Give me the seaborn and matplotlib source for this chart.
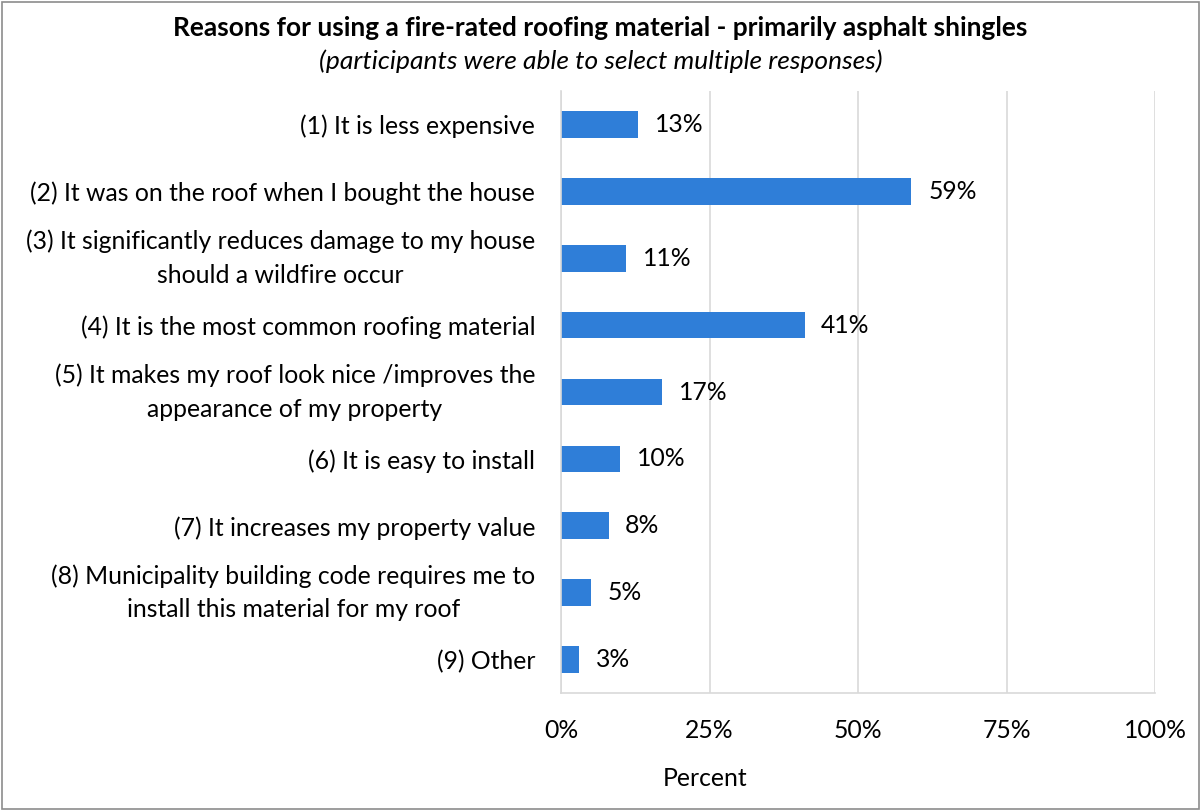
import matplotlib
matplotlib.use("Agg")
import matplotlib.pyplot as plt
import seaborn as sns
import pandas as pd
import numpy as np
from matplotlib.ticker import FixedLocator, PercentFormatter

categories = [
    "(1) It is less expensive",
    "(2) It was on the roof when I bought the house",
    "(3) It significantly reduces damage to my house\nshould a wildfire occur",
    "(4) It is the most common roofing material",
    "(5) It makes my roof look nice /improves the\nappearance of my property",
    "(6) It is easy to install",
    "(7) It increases my property value",
    "(8) Municipality building code requires me to\ninstall this material for my roof",
    "(9) Other",
]
percents = [13, 59, 11, 41, 17, 10, 8, 5, 3]
x_ticks = [0, 25, 50, 75, 100]

sns.set_theme(style="white")
plt.rcParams["font.family"] = ["Lato", "DejaVu Sans"]

df = pd.DataFrame({"reason": categories, "percent": percents})

fig = plt.figure(figsize=(12.01, 8.11), dpi=100)
ax = fig.add_axes([561 / 1201, 1 - 693 / 811, 594 / 1201, 602 / 811])

bar_color = "#2F7ED8"
sns.barplot(data=df, x="percent", y="reason", color=bar_color, width=0.40,
            saturation=1, ax=ax, edgecolor="none")

ax.set_xlim(0, 100)
ax.set_ylim(len(categories) - 0.5, -0.5)
ax.xaxis.set_major_locator(FixedLocator(x_ticks))
ax.xaxis.set_major_formatter(PercentFormatter(100, decimals=0))
ax.grid(axis="x", color="#D9D9D9", linewidth=1.2)
ax.set_axisbelow(True)

for s in ["top", "right"]:
    ax.spines[s].set_visible(False)
for s in ["left", "bottom"]:
    ax.spines[s].set_color("#D9D9D9")
    ax.spines[s].set_linewidth(1.2)

label_size = 17.8

# category labels without tick marks; boundary ticks drawn as minor ticks
ax.tick_params(axis="y", which="major", length=0, pad=18.5, labelsize=label_size,
               labelcolor="black")
ax.set_yticks(np.arange(-0.5, len(categories), 1.0), minor=True)
ax.tick_params(axis="y", which="minor", length=8, color="#D9D9D9", width=1.2)
ax.tick_params(axis="x", which="major", length=9, color="#D9D9D9", width=1.2,
               pad=10, labelsize=label_size, labelcolor="black")
for lbl in ax.get_yticklabels():
    lbl.set_horizontalalignment("right")
    lbl.set_multialignment("center")
    lbl.set_linespacing(1.55)
    if "\n" in lbl.get_text():
        lbl.set_verticalalignment("center")

ax.set_xlabel("")
ax.set_ylabel("")

for i, v in enumerate(percents):
    ax.annotate(f"{v}%", xy=(v, i), xytext=(12, 0), textcoords="offset points",
                ha="left", va="center", fontsize=label_size, color="black")

fig.text(705 / 1201, 1 - 778 / 811, "Percent", ha="center", va="center",
         fontsize=label_size, color="black")
fig.text(0.5, 1 - 28 / 811,
         "Reasons for using a fire-rated roofing material - primarily asphalt shingles",
         ha="center", va="center", fontsize=18.9, fontweight="bold", color="black")
fig.text(0.5, 1 - 61 / 811, "(participants were able to select multiple responses)",
         ha="center", va="center", fontsize=19, fontstyle="italic", color="black")

# thin frame around the whole figure
fig.patches.append(plt.Rectangle((0.002, 0.002), 0.996, 0.996, transform=fig.transFigure,
                                 fill=False, edgecolor="#8C8C8C", linewidth=1.2))

fig.savefig("out.png", dpi=100)
